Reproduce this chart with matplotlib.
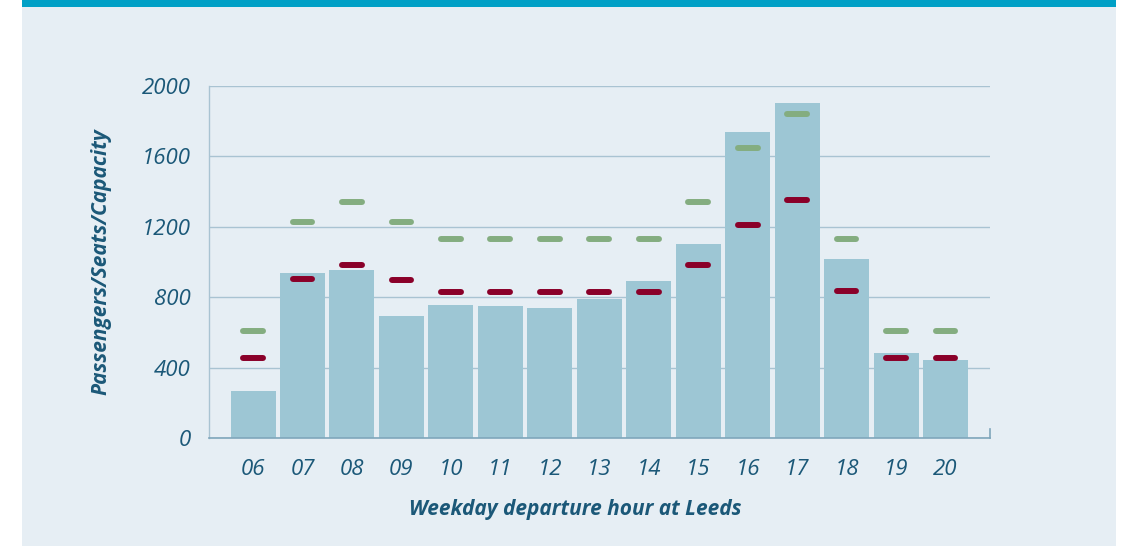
import matplotlib
matplotlib.use("Agg")
from matplotlib import pyplot as plt
from matplotlib.patches import Rectangle

# Weekday departure hour at Leeds
hours = ["06", "07", "08", "09", "10", "11", "12", "13", "14", "15", "16", "17", "18", "19", "20"]
passengers = [265, 940, 955, 695, 755, 750, 740, 790, 890, 1100, 1740, 1905, 1015, 485, 445]
seats = [455, 905, 985, 900, 830, 830, 830, 830, 830, 985, 1210, 1355, 835, 455, 455]
capacity = [610, 1230, 1340, 1225, 1130, 1130, 1130, 1130, 1130, 1340, 1650, 1840, 1130, 610, 610]
yticks = [0, 400, 800, 1200, 1600, 2000]

textColor = "#1b5878"
barColor = "#9dc6d4"
seatColor = "#8a0029"
capColor = "#84ad80"
gridColor = "#a9c3d2"
panelColor = "#e6eef4"

plt.rcParams['font.family'] = ['Open Sans', 'DejaVu Sans']

fig = plt.figure(figsize=(11.32, 5.46), dpi=100)
fig.patch.set_facecolor("white")
# light panel with teal band on top (drawn behind the axes)
fig.patches.append(Rectangle((22 / 1132, 0), (1116 - 22) / 1132, 1, transform=fig.transFigure,
                             facecolor=panelColor, edgecolor="none", zorder=-2))
fig.patches.append(Rectangle((22 / 1132, 1 - 7 / 546), (1116 - 22) / 1132, 7 / 546, transform=fig.transFigure,
                             facecolor="#00a0c6", edgecolor="none", zorder=-1))

ax = fig.add_axes([209 / 1132, 108 / 546, (990 - 209) / 1132, 352 / 546])
ax.set_facecolor("none")

x = list(range(len(hours)))
ax.bar(x, passengers, width=0.91, color=barColor, zorder=2)
ax.hlines(capacity, [i - 0.2 for i in x], [i + 0.2 for i in x], colors=capColor,
          linewidth=4.3, capstyle="round", zorder=3)
ax.hlines(seats, [i - 0.2 for i in x], [i + 0.2 for i in x], colors=seatColor,
          linewidth=4.3, capstyle="round", zorder=3)

ax.set_xlim(-0.89, 14.9)
ax.set_ylim(0, 2000)
ax.set_yticks(yticks)
ax.set_xticks(x)
ax.set_xticklabels(hours)
ax.yaxis.grid(True, color=gridColor, linewidth=1)
ax.set_axisbelow(True)

for side in ["top", "right"]:
    ax.spines[side].set_visible(False)
ax.spines["left"].set_color(gridColor)
ax.spines["left"].set_linewidth(1)
ax.spines["bottom"].set_color("#7fa6bb")
ax.spines["bottom"].set_linewidth(1.2)
ax.spines["bottom"].set_zorder(4)
# small end tick on the baseline
ax.plot([1, 1], [0, 0.025], transform=ax.transAxes, color="#7fa6bb", linewidth=1.2, clip_on=False)

ax.tick_params(axis="both", length=0, labelsize=16, labelcolor=textColor)
ax.tick_params(axis="y", pad=13)
ax.tick_params(axis="x", pad=15)
for lab in ax.get_xticklabels() + ax.get_yticklabels():
    lab.set_fontstyle("italic")

ax.set_xlabel("Weekday departure hour at Leeds", fontsize=15, fontweight="bold", fontstyle="italic",
              color=textColor, labelpad=14)
ax.xaxis.label.set_x(0.469)
ax.set_ylabel("Passengers/Seats/Capacity", fontsize=15, fontweight="bold", fontstyle="italic",
              color=textColor, labelpad=22)

fig.savefig("out.png", dpi=100, facecolor=fig.get_facecolor())
